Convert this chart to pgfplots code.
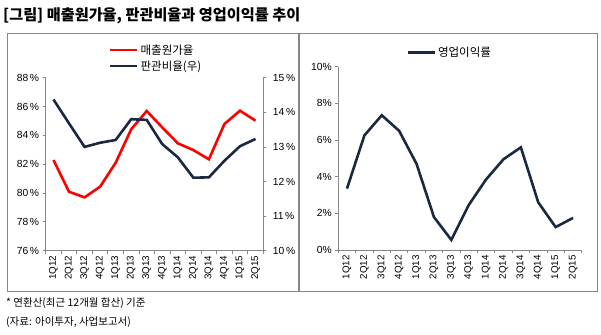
\documentclass[border=0pt]{standalone}
\usepackage{fontspec}
\setmainfont{Liberation Sans}
\newfontfamily\kr{Noto Sans CJK KR}
\usepackage{pgfplots}
\pgfplotsset{compat=1.18}
\definecolor{navy}{HTML}{1A2840}
\definecolor{axgray}{HTML}{868686}
\begin{document}
\begin{tikzpicture}[x=1pt,y=1pt]
\useasboundingbox (0,0) rectangle (601,-334);
\fill[white] (0,0) rectangle (601,-334);
\node[anchor=west,inner sep=0] at (3,-16) {\kr\bfseries\fontsize{15.2}{17}\selectfont [그림] 매출원가율, 판관비율과 영업이익률 추이};
\draw[axgray,line width=1] (7,-34) rectangle (298,-291);
\draw[axgray,line width=1] (299.5,-34) rectangle (597,-291);
\node[anchor=west,inner sep=0] at (6,-303) {\kr\fontsize{10.5}{12}\selectfont * 연환산(최근 12개월 합산) 기준};
\node[anchor=west,inner sep=0] at (6,-322) {\kr\fontsize{10.5}{12}\selectfont (자료: 아이투자, 사업보고서)};
\pgfplotsset{
  every axis/.append style={
    scale only axis,
    anchor=south west,
    xmin=-0.5, xmax=13.5,
    xtick={0,...,13},
    xticklabels={1Q12,2Q12,3Q12,4Q12,1Q13,2Q13,3Q13,4Q13,1Q14,2Q14,3Q14,4Q14,1Q15,2Q15},
    major x tick style={draw=none},
    minor xtick={-0.5,0.5,...,13.5},
    minor tick length=3pt,
    major tick length=3pt,
    tick align=outside,
    tick style={axgray, line width=0.8pt},
    axis line style={axgray, line width=0.8pt},
    x tick label style={rotate=90, anchor=east, font=\fontsize{9.8}{10}\selectfont, inner sep=2pt},
    y tick label style={font=\fontsize{10.3}{11}\selectfont},
    /pgf/number format/assume math mode=true,
    legend style={draw=none, fill=none, font=\kr\fontsize{11.5}{13}\selectfont, row sep=1pt, inner sep=0pt, cells={anchor=west}},
    legend image code/.code={\draw[#1] (0pt,0pt) -- (27pt,0pt);},
  }
}
% left panel, left axis
\begin{axis}[
  at={(45.7pt,-250.7pt)}, width=217.6pt, height=173pt,
  axis x line*=bottom, axis y line*=left,
  ymin=76, ymax=88, ytick={76,78,...,88},
  yticklabels={76\,\%,78\,\%,80\,\%,82\,\%,84\,\%,86\,\%,88\,\%},
  legend style={at={(0.29,1.205)}, anchor=north west},
]
\addplot[red, line width=2.6pt, mark=none] coordinates {
(0,82.29) (1,80.09) (2,79.70) (3,80.44) (4,82.10) (5,84.42) (6,85.69)
(7,84.55) (8,83.45) (9,82.98) (10,82.34) (11,84.79) (12,85.71) (13,85.02)};
\addlegendentry{매출원가율}
\addlegendimage{navy, line width=2.6pt}
\addlegendentry{판관비율(우)}
\end{axis}
% left panel, right axis
\begin{axis}[
  at={(45.7pt,-250.7pt)}, width=217.6pt, height=173pt,
  axis x line=none, axis y line*=right,
  ymin=10, ymax=15, ytick={10,...,15},
  yticklabels={10\,\%,11\,\%,12\,\%,13\,\%,14\,\%,15\,\%},
  y tick label style={xshift=3pt},
]
\addplot[navy, line width=2.6pt, mark=none] coordinates {
(0,14.37) (1,13.68) (2,13.00) (3,13.12) (4,13.20) (5,13.80) (6,13.78)
(7,13.08) (8,12.70) (9,12.11) (10,12.12) (11,12.60) (12,13.02) (13,13.23)};
\end{axis}
% right panel
\begin{axis}[
  at={(338.3pt,-250pt)}, width=243.4pt, height=183.3pt,
  axis x line*=bottom, axis y line*=left,
  ymin=0, ymax=10, ytick={0,2,...,10},
  yticklabels={0\%,2\%,4\%,6\%,8\%,10\%},
  legend style={at={(0.279,1.12)}, anchor=north west},
]
\addplot[navy, line width=2.6pt, mark=none] coordinates {
(0,3.35) (1,6.25) (2,7.35) (3,6.5) (4,4.7) (5,1.8) (6,0.55)
(7,2.45) (8,3.85) (9,4.95) (10,5.6) (11,2.6) (12,1.25) (13,1.75)};
\addlegendentry{영업이익률}
\end{axis}
\end{tikzpicture}
\end{document}
